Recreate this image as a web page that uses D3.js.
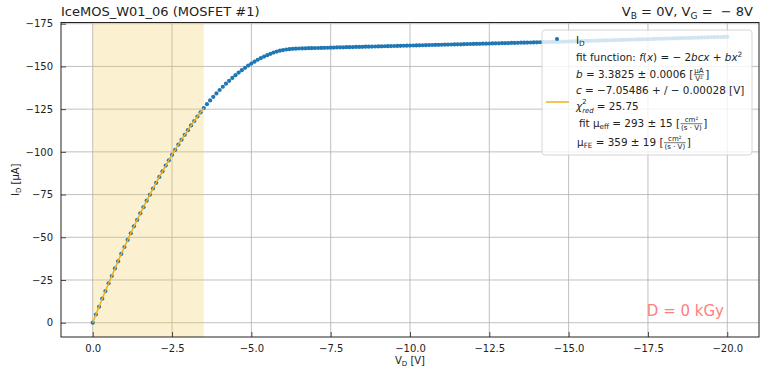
<!DOCTYPE html>
<html>
<head>
<meta charset="utf-8">
<script src="https://cdn.jsdelivr.net/npm/d3@7"></script>
<style>
  html, body { margin: 0; padding: 0; background: #fff; }
  svg text { font-family: "DejaVu Sans", sans-serif; white-space: pre; }
</style>
</head>
<body>
<svg id="chart" width="760" height="371"></svg>
<script>
// Drain-voltage sweep (V): 0 V down to -20 V in 0.1 V steps
const sweepStart = 0, sweepStop = -20, sweepStep = -0.1;

// Measured drain current I_D (µA), one value per sweep point
const drainCurrent = [
  0.00, -4.80, -9.35, -14.05, -18.50, -23.10, -27.35, -31.80, -35.95, -40.30,
  -44.30, -48.45, -52.35, -56.40, -60.15, -64.05, -67.65, -71.40, -74.90, -78.55,
  -81.90, -85.35, -88.60, -91.95, -95.05, -98.25, -101.20, -104.25, -107.10, -110.00,
  -112.70, -115.50, -118.05, -120.70, -123.15, -125.60, -127.90, -130.10, -132.20, -134.20,
  -136.20, -138.10, -139.90, -141.60, -143.30, -144.90, -146.40, -147.80, -149.20, -150.50,
  -151.70, -152.80, -153.90, -154.90, -155.80, -156.60, -157.40, -158.10, -158.70, -159.20,
  -159.60, -159.90, -160.10, -160.30, -160.40, -160.50, -160.55, -160.61, -160.66, -160.70,
  -160.76, -160.80, -160.86, -160.91, -160.95, -161.01, -161.05, -161.10, -161.16, -161.20,
  -161.25, -161.30, -161.34, -161.40, -161.44, -161.49, -161.54, -161.59, -161.63, -161.68,
  -161.73, -161.78, -161.82, -161.88, -161.92, -161.97, -162.02, -162.06, -162.12, -162.16,
  -162.21, -162.26, -162.30, -162.36, -162.40, -162.45, -162.50, -162.55, -162.59, -162.64,
  -162.69, -162.74, -162.78, -162.83, -162.88, -162.93, -162.97, -163.02, -163.07, -163.12,
  -163.16, -163.21, -163.26, -163.31, -163.35, -163.40, -163.45, -163.50, -163.54, -163.59,
  -163.64, -163.69, -163.74, -163.78, -163.83, -163.88, -163.93, -163.98, -164.02, -164.07,
  -164.12, -164.17, -164.22, -164.27, -164.31, -164.36, -164.41, -164.46, -164.51, -164.56,
  -164.60, -164.66, -164.71, -164.77, -164.82, -164.88, -164.93, -164.99, -165.04, -165.10,
  -165.15, -165.21, -165.26, -165.32, -165.37, -165.43, -165.48, -165.54, -165.59, -165.65,
  -165.70, -165.76, -165.81, -165.87, -165.92, -165.98, -166.03, -166.09, -166.14, -166.20,
  -166.25, -166.31, -166.36, -166.42, -166.47, -166.53, -166.58, -166.64, -166.69, -166.75,
  -166.80, -166.86, -166.91, -166.97, -167.02, -167.08, -167.13, -167.19, -167.24, -167.30,
  -167.35
];

// Quadratic fit over the linear region: f(x) = -2bcx + bx^2
const fitB = 3.3825;      // µA / V^2
const fitC = -7.05486;    // V
const fitRange = [0, -3.5];

// Tick positions
const xMajorTicks = [0, -2.5, -5, -7.5, -10, -12.5, -15, -17.5, -20];
const yMajorTicks = [0, -25, -50, -75, -100, -125, -150, -175];
const xMinorStep = 0.5, yMinorStep = 5;

const plot = { left: 61, right: 759, top: 22.5, bottom: 337 };

const voltages = d3.range(drainCurrent.length).map(i => +(sweepStart + i * sweepStep).toFixed(2));
const points = voltages.map((v, i) => ({ v, i: drainCurrent[i] }));

const svg = d3.select('#chart');

// Axis limits with 5% padding on both sides
function padded(ext) { const m = (ext[1] - ext[0]) * 0.05; return [ext[0] - m, ext[1] + m]; }
const xExt = padded(d3.extent(voltages));
const yExt = padded(d3.extent(drainCurrent));

const x = d3.scaleLinear().domain([xExt[1], xExt[0]]).range([plot.left, plot.right]);
const y = d3.scaleLinear().domain([yExt[1], yExt[0]]).range([plot.bottom, plot.top]);

svg.append('defs').append('clipPath').attr('id', 'plotclip')
  .append('rect').attr('x', plot.left).attr('y', plot.top)
  .attr('width', plot.right - plot.left).attr('height', plot.bottom - plot.top);

// Grid
const grid = svg.append('g');
grid.selectAll('.gx').data(xMajorTicks).join('line')
  .attr('x1', d => x(d)).attr('x2', d => x(d))
  .attr('y1', plot.top).attr('y2', plot.bottom)
  .attr('stroke', '#b0b0b0').attr('stroke-width', 0.8);
grid.selectAll('.gy').data(yMajorTicks).join('line')
  .attr('x1', plot.left).attr('x2', plot.right)
  .attr('y1', d => y(d)).attr('y2', d => y(d))
  .attr('stroke', '#b0b0b0').attr('stroke-width', 0.8);

// Fit window shading
svg.append('rect')
  .attr('x', x(fitRange[0])).attr('width', x(fitRange[1]) - x(fitRange[0]))
  .attr('y', plot.top).attr('height', plot.bottom - plot.top)
  .attr('fill', 'rgb(240,200,80)').attr('fill-opacity', 0.27);

const body = svg.append('g').attr('clip-path', 'url(#plotclip)');

// Measured points
body.selectAll('circle').data(points).join('circle')
  .attr('cx', d => x(d.v)).attr('cy', d => y(d.i)).attr('r', 2.1)
  .attr('fill', '#1f77b4');

// Fit curve across the fit window
const fitFn = v => -2 * fitB * fitC * v + fitB * v * v;
const fitPts = voltages.filter(v => v <= fitRange[0] && v >= fitRange[1] - 1e-9).map(v => [v, fitFn(v)]);
body.append('path').datum(fitPts)
  .attr('d', d3.line().x(d => x(d[0])).y(d => y(d[1])))
  .attr('fill', 'none').attr('stroke', '#f2b01e').attr('stroke-width', 1.5);

// Axes with inward ticks
const fmtX = d3.format('.1f'), fmtY = d3.format('d');
const xMinor = d3.range(xExt[0], xExt[1] - 1e-9, -xMinorStep).map(v => Math.round(v / xMinorStep) * xMinorStep)
  .filter(v => v <= xExt[0] + 1e-9 && v >= xExt[1] - 1e-9);
const yMinor = d3.range(Math.floor(yExt[1] / yMinorStep) * yMinorStep, yExt[0], yMinorStep)
  .filter(v => v >= yExt[0] && v <= yExt[1]);

const xAxisMinor = d3.axisBottom(x).tickValues(xMinor).tickSize(-2.5).tickFormat('');
const xAxis = d3.axisBottom(x).tickValues(xMajorTicks).tickSize(-5).tickPadding(8).tickFormat(fmtX);
const yAxisMinor = d3.axisLeft(y).tickValues(yMinor).tickSize(-2.5).tickFormat('');
const yAxis = d3.axisLeft(y).tickValues(yMajorTicks).tickSize(-5).tickPadding(8).tickFormat(fmtY);

function styleAxis(g) {
  g.select('.domain').remove();
  g.selectAll('line').attr('stroke', '#222').attr('stroke-width', 0.8);
  g.selectAll('text').attr('font-size', 10).attr('fill', '#222').attr('font-family', '"DejaVu Sans", sans-serif');
}
svg.append('g').attr('transform', `translate(0,${plot.bottom})`).call(xAxisMinor).call(styleAxis);
svg.append('g').attr('transform', `translate(0,${plot.bottom})`).call(xAxis).call(styleAxis);
svg.append('g').attr('transform', `translate(${plot.left},0)`).call(yAxisMinor).call(styleAxis);
svg.append('g').attr('transform', `translate(${plot.left},0)`).call(yAxis).call(styleAxis);

// Frame
svg.append('rect').attr('x', plot.left).attr('y', plot.top)
  .attr('width', plot.right - plot.left).attr('height', plot.bottom - plot.top)
  .attr('fill', 'none').attr('stroke', '#222').attr('stroke-width', 1);

// Rich text helper: plain, italic, sub/superscripts and small stacked fractions
function rich(parent, x0, y0, parts, size, opts = {}) {
  const g = parent.append('g');
  let cx = x0;
  const mk = (txt, fs, it) => g.append('text').attr('font-size', fs)
    .attr('font-style', it ? 'italic' : null).attr('fill', opts.fill || '#222').text(txt);
  parts.forEach(p => {
    if (typeof p === 'string') p = { t: p };
    if (p.frac) {
      const fs = size * 0.68;
      const n = mk(p.frac[0], fs).attr('text-anchor', 'middle');
      const d = mk(p.frac[1], fs).attr('text-anchor', 'middle');
      const w = Math.max(n.node().getComputedTextLength(), d.node().getComputedTextLength()) + 1;
      n.attr('x', cx + w / 2 + 0.5).attr('y', y0 - size * 0.45);
      d.attr('x', cx + w / 2 + 0.5).attr('y', y0 + size * 0.33);
      g.append('line').attr('x1', cx + 0.5).attr('x2', cx + w + 0.5)
        .attr('y1', y0 - size * 0.32).attr('y2', y0 - size * 0.32)
        .attr('stroke', opts.fill || '#222').attr('stroke-width', 0.6);
      cx += w + 1.5;
    } else if (p.supsub) {
      const fs = size * 0.66;
      const a = mk(p.supsub[0], fs).attr('x', cx).attr('y', y0 - size * 0.5);
      const b = mk(p.supsub[1], fs, true).attr('x', cx).attr('y', y0 + size * 0.34);
      cx += Math.max(a.node().getComputedTextLength(), b.node().getComputedTextLength());
    } else {
      const small = p.sub || p.sup;
      const fs = small ? size * 0.7 : size;
      const dy = p.sub ? size * 0.22 : p.sup ? -size * 0.38 : 0;
      const t = mk(p.t, fs, p.it).attr('x', cx).attr('y', y0 + dy);
      cx += t.node().getComputedTextLength();
    }
  });
  if (opts.anchor === 'end') g.attr('transform', `translate(${x0 - cx},0)`);
  if (opts.anchor === 'middle') g.attr('transform', `translate(${(x0 - cx) / 2},0)`);
  return g;
}

// Titles
svg.append('text').attr('x', plot.left).attr('y', 16).attr('font-size', 13).attr('fill', '#222')
  .text('IceMOS_W01_06 (MOSFET #1)');
rich(svg, 753, 16, ['V', { t: 'B', sub: true }, ' = 0V, V', { t: 'G', sub: true }, ' =  \u2212 8V'], 13, { anchor: 'end' });

// Axis labels
rich(svg, (plot.left + plot.right) / 2, 364, ['V', { t: 'D', sub: true }, ' [V]'], 10, { anchor: 'middle' });
const yl = svg.append('g').attr('transform', `translate(19,${(plot.top + plot.bottom) / 2}) rotate(-90)`);
rich(yl, 0, 0, ['I', { t: 'D', sub: true }, ' [\u03bcA]'], 10, { anchor: 'middle' });

// Dose annotation
svg.append('text').attr('x', 724).attr('y', 316).attr('text-anchor', 'end')
  .attr('font-size', 15).attr('fill', 'rgb(255,128,128)').text('D = 0 kGy');

// Legend
const lg = svg.append('g');
lg.append('rect').attr('x', 542).attr('y', 30).attr('width', 210).attr('height', 125).attr('rx', 3)
  .attr('fill', '#fff').attr('fill-opacity', 0.8).attr('stroke', '#cccccc').attr('stroke-width', 0.8);
lg.append('circle').attr('cx', 557).attr('cy', 39).attr('r', 2.1).attr('fill', '#1f77b4');
lg.append('line').attr('x1', 546).attr('x2', 569).attr('y1', 102).attr('y2', 102)
  .attr('stroke', '#f2b01e').attr('stroke-width', 1.5);
const lx = 576, fs = 10.4;
rich(lg, lx, 44, ['I', { t: 'D', sub: true }], fs);
rich(lg, lx, 61, ['fit function: ', { t: 'f', it: true }, '(', { t: 'x', it: true }, ') = \u2212 2', { t: 'bcx', it: true }, ' + ', { t: 'bx', it: true }, { t: '2', sup: true }], fs);
rich(lg, lx, 78, [{ t: 'b', it: true }, ' = 3.3825 \u00b1 0.0006 [', { frac: ['\u03bcA', 'V\u00b2'] }, ']'], fs);
rich(lg, lx, 94, [{ t: 'c', it: true }, ' = \u22127.05486 + / \u2212 0.00028 [V]'], fs);
rich(lg, lx, 109.5, [{ t: '\u03c7', it: true }, { supsub: ['2', 'red'] }, ' = 25.75'], fs);
rich(lg, lx + 3, 127, ['fit \u03bc', { t: 'eff', sub: true }, ' = 293 \u00b1 15 [', { frac: ['cm\u00b2', '(s \u00b7 V)'] }, ']'], fs);
rich(lg, lx + 1, 146, ['\u03bc', { t: 'FE', sub: true }, ' = 359 \u00b1 19 [', { frac: ['cm\u00b2', '(s \u00b7 V)'] }, ']'], fs);
</script>
</body>
</html>
